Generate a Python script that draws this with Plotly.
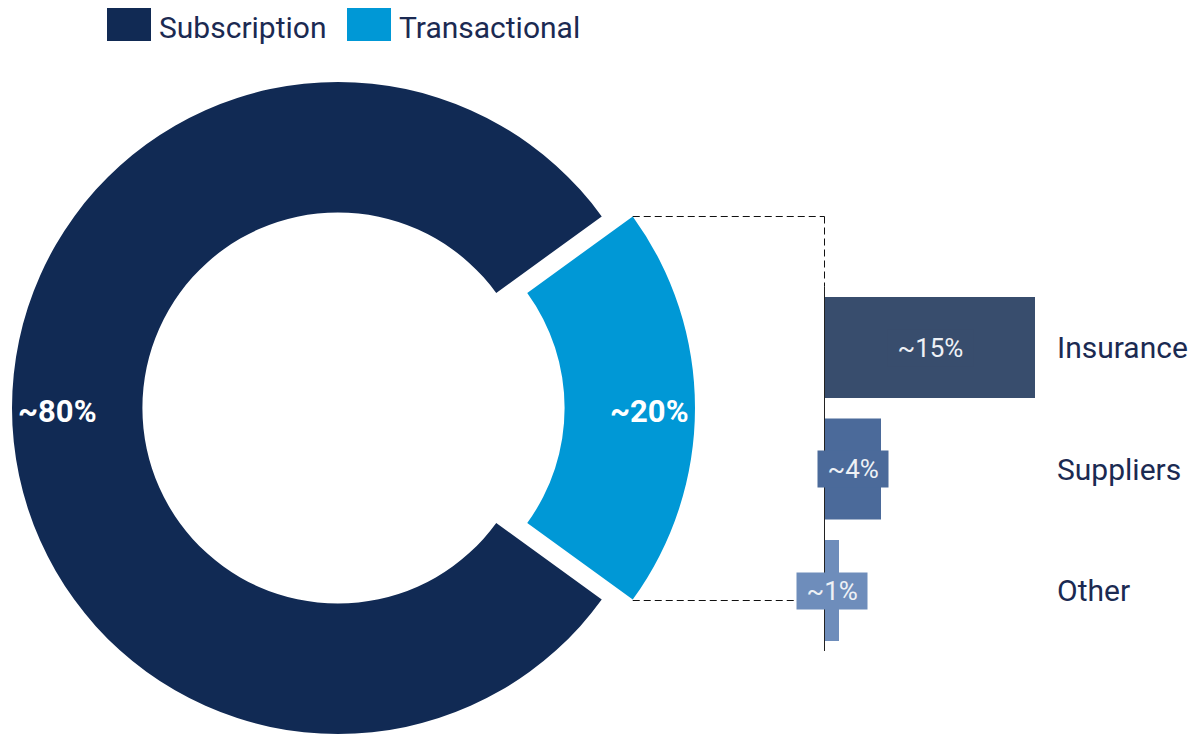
import math
import plotly.graph_objects as go

# Revenue split (share of total, %)
donut_labels = ["Subscription", "Transactional"]
donut_values = [80, 20]
donut_colors = ["#112A54", "#0098D6"]

# Breakdown of the transactional share (%)
bar_categories = ["Insurance", "Suppliers", "Other"]
bar_values = [15, 4, 1]
bar_colors = ["#384D6D", "#4B6A9A", "#6E8DBB"]

W, H = 1190, 736
FONT = "Roboto"
NAVY = "#1B2A52"
NBSP = "\u00a0"


def px_x(x):
    return x / W


def px_y(y):
    return 1 - y / H


# donut geometry (pixels)
cx, cy, r = 338, 408, 326
explode = 31          # offset of the transactional slice to the right
hole = 0.6

total = sum(donut_values)
trans_share = donut_values[1] / total
half_angle = math.pi * trans_share          # half of the slice's angular width
rotation = 90 + math.degrees(half_angle)    # first slice starts below the horizontal

fig = go.Figure()

# Base ring: subscription visible, transactional left empty
fig.add_trace(go.Pie(
    labels=donut_labels, values=donut_values, sort=False, direction="clockwise",
    rotation=rotation, hole=hole, textinfo="none", showlegend=False,
    marker=dict(colors=[donut_colors[0], "rgba(0,0,0,0)"], line=dict(width=0)),
    domain=dict(x=[px_x(cx - r), px_x(cx + r)], y=[px_y(cy + r), px_y(cy - r)]),
    hoverinfo="label+percent",
))
# Exploded slice: same ring shifted right, only transactional visible
fig.add_trace(go.Pie(
    labels=donut_labels, values=donut_values, sort=False, direction="clockwise",
    rotation=rotation, hole=hole, textinfo="none", showlegend=False,
    marker=dict(colors=["rgba(0,0,0,0)", donut_colors[1]], line=dict(width=0)),
    domain=dict(x=[px_x(cx + explode - r), px_x(cx + explode + r)],
                y=[px_y(cy + r), px_y(cy - r)]),
    hoverinfo="label+percent",
))

# Breakdown bars
x0_px, x1_px = 825, 1045
px_per_unit = 14
bar_top_px, bar_bot_px = 286.75, 651.25
fig.add_trace(go.Bar(
    x=bar_values, y=bar_categories, orientation="h",
    marker=dict(color=bar_colors, line=dict(width=0)),
    width=0.83, showlegend=False, hoverinfo="y+x",
))

annotations = []
# value labels on donut
for val, xc in zip(donut_values, (57, 650)):
    annotations.append(dict(x=px_x(xc), y=px_y(411), xref="paper", yref="paper",
                            xanchor="center", yanchor="middle",
                            text=f"~{val}%", showarrow=False,
                            font=dict(family=FONT, size=31, color="white", weight="bold")))
# value labels on bars and category names on the right
for cat, val, col in zip(bar_categories, bar_values, bar_colors):
    annotations.append(dict(x=val / 2, y=cat, xref="x", yref="y",
                            xanchor="center", yanchor="middle",
                            text=f"{NBSP}~{val}%{NBSP}", showarrow=False, bgcolor=col,
                            borderpad=3,
                            font=dict(family=FONT, size=26, color="#EEF1F5")))
    annotations.append(dict(x=px_x(1055), y=cat, xref="paper", yref="y",
                            xanchor="left", yanchor="middle", text=cat, showarrow=False,
                            font=dict(family=FONT, size=30, color=NAVY)))

# legend
legend_items = [(donut_labels[0], donut_colors[0], 107),
                (donut_labels[1], donut_colors[1], 347)]
shapes = []
for name, col, lx in legend_items:
    shapes.append(dict(type="rect", xref="paper", yref="paper",
                       x0=px_x(lx), x1=px_x(lx + 44), y0=px_y(41), y1=px_y(8),
                       fillcolor=col, line=dict(width=0)))
    annotations.append(dict(x=px_x(lx + 50), y=px_y(27), xref="paper", yref="paper",
                            xanchor="left", yanchor="middle", text=name, showarrow=False,
                            font=dict(family=FONT, size=30, color=NAVY)))

# dashed connector from exploded slice to the breakdown axis
# (snapped to half pixels so the 1px dashes render crisply)
corner_x = cx + explode + r * math.cos(half_angle)
top_y = round(cy - r * math.sin(half_angle)) + 0.5
bot_y = round(cy + r * math.sin(half_angle)) + 0.5
line_x = x0_px - 0.5
dash = dict(color="#111111", width=1, dash="7px,4px")
shapes.append(dict(type="line", xref="paper", yref="paper",
                   x0=px_x(corner_x), x1=px_x(line_x), y0=px_y(top_y), y1=px_y(top_y),
                   line=dash))
shapes.append(dict(type="line", xref="paper", yref="paper",
                   x0=px_x(line_x), x1=px_x(line_x), y0=px_y(top_y), y1=px_y(bar_top_px),
                   line=dash))
shapes.append(dict(type="line", xref="paper", yref="paper",
                   x0=px_x(corner_x), x1=px_x(line_x), y0=px_y(bot_y), y1=px_y(bot_y),
                   line=dash))

fig.update_layout(
    width=W, height=H, margin=dict(l=0, r=0, t=0, b=0),
    paper_bgcolor="white", plot_bgcolor="rgba(0,0,0,0)",
    xaxis=dict(domain=[px_x(x0_px), px_x(x1_px)],
               range=[0, (x1_px - x0_px) / px_per_unit],
               showgrid=False, zeroline=False, showticklabels=False, ticks=""),
    yaxis=dict(domain=[px_y(bar_bot_px), px_y(bar_top_px)],
               range=[len(bar_categories) - 0.5, -0.5],
               categoryorder="array", categoryarray=bar_categories,
               showgrid=False, zeroline=False, showticklabels=False, ticks="",
               showline=True, linecolor="#222222", linewidth=1),
    annotations=annotations, shapes=shapes,
    font=dict(family=FONT, color=NAVY),
)

fig.write_html("out.html")
